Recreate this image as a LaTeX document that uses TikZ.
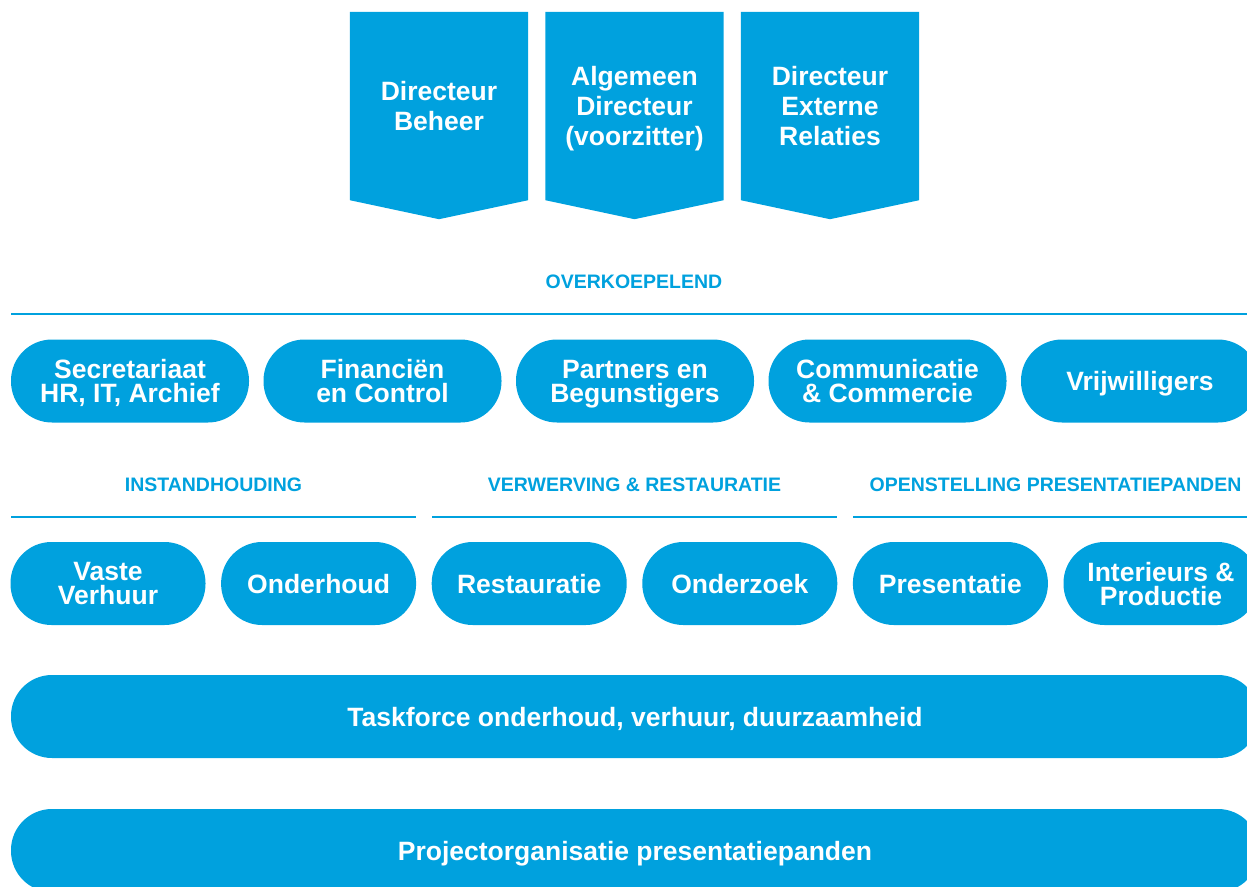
\documentclass[tikz,border=0pt]{standalone}
\usepackage{fontspec}
\setmainfont{Liberation Sans}
\usetikzlibrary{positioning, calc, backgrounds}
\definecolor{hbblue}{RGB}{0,161,222}

\tikzset{
  dirbox/.style={minimum width=178pt, minimum height=188pt, inner sep=0pt, align=center,
    text depth=0pt, text=white, font=\bfseries\fontsize{26.5}{30}\selectfont},
  unit/.style={fill=hbblue, rounded corners=41pt, minimum height=83pt, inner sep=0pt,
    align=center, text depth=0pt, text=white, font=\bfseries\fontsize{26.5}{24}\selectfont},
  wideunit/.style={unit, minimum width=238pt},
  smallunit/.style={unit, minimum width=195pt},
  bar/.style={unit, minimum width=1248pt},
  kop/.style={text=hbblue, font=\bfseries\fontsize{19.5}{22}\selectfont},
  rule/.style={draw=hbblue, line width=1.2pt}
}

\begin{document}
\begin{tikzpicture}[x=1pt, y=-1pt, on grid]
    \useasboundingbox (0,0) rectangle (1247,886);
    \clip (0,0) rectangle (1247,886);

    % directie
    \node[dirbox] (beheer) at (439,106) {Directeur\\Beheer};
    \node[dirbox] (alg) [right=195.5pt of beheer] {Algemeen\\Directeur\\(voorzitter)};
    \node[dirbox] (extern) [right=195.5pt of alg] {Directeur\\Externe\\Relaties};
    \begin{scope}[on background layer]
        \foreach \d in {beheer, alg, extern}
            \fill[hbblue] (\d.north west) -- (\d.north east) -- (\d.south east)
                -- ($(\d.south)+(0,19)$) -- (\d.south west) -- cycle;
    \end{scope}

    % overkoepelend
    \node[kop] (over) at (634,282) {OVERKOEPELEND};
    \draw[rule] (11,314) -- (1247,314);

    \node[wideunit] (secr) at (130,381) {Secretariaat\\HR, IT, Archief};
    \node[wideunit] (fin) [right=252.5pt of secr] {Financiën\\en Control};
    \node[wideunit] (partners) [right=252.5pt of fin] {Partners en\\Begunstigers};
    \node[wideunit] (comm) [right=252.5pt of partners] {Communicatie\\\& Commercie};
    \node[wideunit] (vrijw) [right=252.5pt of comm] {Vrijwilligers};

    % afdelingen
    \node[kop] (inst) at (213.5,485) {INSTANDHOUDING};
    \node[kop] (verw) [right=421pt of inst] {VERWERVING \& RESTAURATIE};
    \node[kop] (open) [right=421pt of verw] {OPENSTELLING PRESENTATIEPANDEN};
    \draw[rule] (11,517) -- (416,517);
    \draw[rule] (432,517) -- (837,517);
    \draw[rule] (853,517) -- (1247,517);

    \node[smallunit] (vaste) at (108,583.5) {Vaste\\Verhuur};
    \node[smallunit] (onderh) [right=210.6pt of vaste] {Onderhoud};
    \node[smallunit] (rest) [right=210.6pt of onderh] {Restauratie};
    \node[smallunit] (onderz) [right=210.6pt of rest] {Onderzoek};
    \node[smallunit] (pres) [right=210.6pt of onderz] {Presentatie};
    \node[smallunit] (inter) [right=210.6pt of pres] {Interieurs \&\\Productie};

    % taskforce en projecten
    \node[bar] (task) at (635,716.5) {Taskforce onderhoud, verhuur, duurzaamheid};
    \node[bar] (proj) at (635,850.5) {Projectorganisatie presentatiepanden};
\end{tikzpicture}
\end{document}
